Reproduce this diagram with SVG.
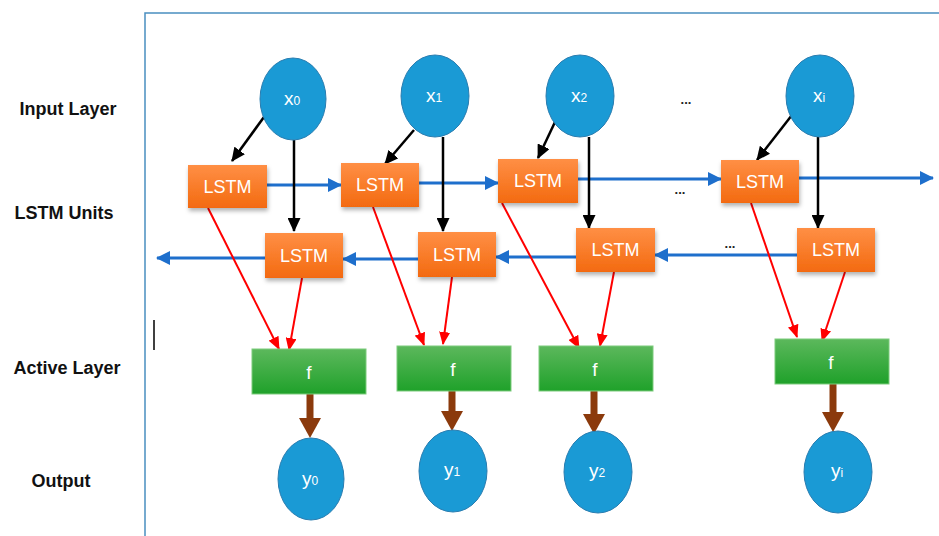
<svg xmlns="http://www.w3.org/2000/svg" width="939" height="536" viewBox="0 0 939 536">
<defs>
<linearGradient id="gOr" x1="0" y1="0" x2="0" y2="1"><stop offset="0" stop-color="#FF8F45"/><stop offset="1" stop-color="#F36A10"/></linearGradient>
<linearGradient id="gGr" x1="0" y1="0" x2="0" y2="1"><stop offset="0" stop-color="#5CB85C"/><stop offset="1" stop-color="#1FA12A"/></linearGradient>
<filter id="sh" x="-20%" y="-20%" width="140%" height="150%"><feDropShadow dx="1" dy="3" stdDeviation="2" flood-color="#000" flood-opacity="0.3"/></filter>
<marker id="mB" markerUnits="userSpaceOnUse" viewBox="0 0 14 14" refX="13" refY="7" markerWidth="14" markerHeight="14" orient="auto"><path d="M0,0 L14,7 L0,14 z" fill="#1E6FCC"/></marker>
<marker id="mK" markerUnits="userSpaceOnUse" viewBox="0 0 14 13" refX="13" refY="6.5" markerWidth="14" markerHeight="13" orient="auto"><path d="M0,0 L14,6.5 L0,13 z" fill="#000"/></marker>
<marker id="mR" markerUnits="userSpaceOnUse" viewBox="0 0 13 11" refX="12" refY="5.5" markerWidth="13" markerHeight="11" orient="auto"><path d="M0,0 L13,5.5 L0,11 z" fill="#FF0000"/></marker>
<marker id="mW" markerUnits="userSpaceOnUse" viewBox="0 0 20 22" refX="0" refY="11" markerWidth="20" markerHeight="22" orient="auto"><path d="M0,0 L20,11 L0,22 z" fill="#8B3A0C"/></marker>
</defs>
<style>
.lbl{font-family:"Liberation Sans",Arial,sans-serif;font-weight:bold;font-size:18px;fill:#111;text-anchor:middle;dominant-baseline:central}
.circ{fill:#1A9AD5;stroke:#2A7DB0;stroke-width:1}
.lstm rect{fill:url(#gOr);filter:url(#sh)}
.fbox rect{fill:url(#gGr);stroke:#7CCB7C;stroke-width:1}
.wt{font-family:"Liberation Sans",Arial,sans-serif;font-size:18px;fill:#fff;text-anchor:middle;dominant-baseline:central}
.big{font-size:19px}
.sub{font-size:12px}
.dots{font-family:"Liberation Sans",Arial,sans-serif;font-weight:bold;font-size:13px;fill:#222;text-anchor:middle}
.blue{stroke:#1E6FCC;stroke-width:3;fill:none;marker-end:url(#mB)}
.blk{stroke:#000;stroke-width:2.5;fill:none;marker-end:url(#mK)}
.red{stroke:#FF0000;stroke-width:2;fill:none;marker-end:url(#mR)}
.brn{stroke:#8B3A0C;stroke-width:7;fill:none;marker-end:url(#mW)}
</style>
<rect width="939" height="536" fill="#fff"/>
<path d="M145,536 V13 H939" fill="none" stroke="#4A8FC0" stroke-width="1.5"/>
<line x1="154" y1="320" x2="154" y2="350" stroke="#000" stroke-width="1.5"/>

<g id="labels">
<text class="lbl" x="68" y="109">Input Layer</text>
<text class="lbl" x="64" y="213">LSTM Units</text>
<text class="lbl" x="67" y="368">Active Layer</text>
<text class="lbl" x="61" y="481">Output</text>
</g>

<g id="connectors">
<line class="blue" x1="267" y1="185" x2="341" y2="185"/>
<line class="blue" x1="419" y1="183" x2="498" y2="183"/>
<line class="blue" x1="578" y1="179" x2="721" y2="179"/>
<line class="blue" x1="799" y1="178" x2="933" y2="178"/>
<line class="blue" x1="797" y1="255" x2="655" y2="255"/>
<line class="blue" x1="576" y1="257" x2="496" y2="257"/>
<line class="blue" x1="418" y1="259" x2="343" y2="259"/>
<line class="blue" x1="265" y1="258" x2="157" y2="258"/>
<line class="blk" x1="264" y1="117" x2="232" y2="161"/>
<line class="blk" x1="294" y1="140" x2="294" y2="231"/>
<line class="blk" x1="414" y1="130" x2="385" y2="164"/>
<line class="blk" x1="443" y1="137" x2="443" y2="231"/>
<line class="blk" x1="555" y1="122" x2="538" y2="158"/>
<line class="blk" x1="589" y1="137" x2="589" y2="228"/>
<line class="blk" x1="792" y1="115" x2="757" y2="160"/>
<line class="blk" x1="818" y1="137" x2="818" y2="228"/>
<line class="red" x1="208" y1="208" x2="279" y2="349"/>
<line class="red" x1="302" y1="278" x2="289" y2="350"/>
<line class="red" x1="373" y1="207" x2="424" y2="345"/>
<line class="red" x1="452" y1="277" x2="443" y2="344"/>
<line class="red" x1="502" y1="203" x2="579" y2="348"/>
<line class="red" x1="614" y1="272" x2="600" y2="346"/>
<line class="red" x1="751" y1="203" x2="797" y2="337"/>
<line class="red" x1="845" y1="272" x2="822" y2="341"/>
<line class="brn" x1="310" y1="394" x2="310" y2="418"/>
<line class="brn" x1="452" y1="391" x2="452" y2="411"/>
<line class="brn" x1="594" y1="391" x2="594" y2="414"/>
<line class="brn" x1="833" y1="384" x2="833" y2="412"/>
</g>

<g id="x0"><ellipse class="circ" cx="293" cy="99" rx="33" ry="41"/><text class="wt big" x="292" y="98">x<tspan class="sub" dy="3">0</tspan></text></g>
<g id="x1"><ellipse class="circ" cx="435" cy="96" rx="34" ry="41"/><text class="wt big" x="434" y="95">x<tspan class="sub" dy="3">1</tspan></text></g>
<g id="x2"><ellipse class="circ" cx="580" cy="96" rx="34" ry="41"/><text class="wt big" x="579" y="95">x<tspan class="sub" dy="3">2</tspan></text></g>
<g id="xi"><ellipse class="circ" cx="820" cy="96" rx="34" ry="41"/><text class="wt big" x="819" y="95">x<tspan class="sub" dy="3">i</tspan></text></g>

<g id="dots">
<text class="dots" x="686" y="104">...</text>
<text class="dots" x="680" y="194">...</text>
<text class="dots" x="730" y="248">...</text>
</g>

<g id="lstm-f1" class="lstm"><rect x="188" y="165" width="79" height="43"/><text class="wt" x="227.5" y="187">LSTM</text></g>
<g id="lstm-f2" class="lstm"><rect x="341" y="163" width="78" height="44"/><text class="wt" x="380" y="185">LSTM</text></g>
<g id="lstm-f3" class="lstm"><rect x="498" y="159" width="80" height="44"/><text class="wt" x="538" y="181">LSTM</text></g>
<g id="lstm-f4" class="lstm"><rect x="721" y="160" width="78" height="43"/><text class="wt" x="760" y="182">LSTM</text></g>
<g id="lstm-b1" class="lstm"><rect x="265" y="233" width="78" height="45"/><text class="wt" x="304" y="256">LSTM</text></g>
<g id="lstm-b2" class="lstm"><rect x="418" y="232" width="78" height="45"/><text class="wt" x="457" y="255">LSTM</text></g>
<g id="lstm-b3" class="lstm"><rect x="576" y="228" width="79" height="44"/><text class="wt" x="615.5" y="250">LSTM</text></g>
<g id="lstm-b4" class="lstm"><rect x="797" y="228" width="78" height="44"/><text class="wt" x="836" y="250">LSTM</text></g>

<g id="f0" class="fbox"><rect x="252" y="349" width="114" height="45"/><text class="wt big" x="309" y="372">f</text></g>
<g id="f1" class="fbox"><rect x="397" y="346" width="114" height="45"/><text class="wt big" x="453" y="369">f</text></g>
<g id="f2" class="fbox"><rect x="539" y="346" width="114" height="45"/><text class="wt big" x="595" y="369">f</text></g>
<g id="fi" class="fbox"><rect x="775" y="339" width="114" height="45"/><text class="wt big" x="831" y="362">f</text></g>

<g id="y0"><ellipse class="circ" cx="311" cy="479" rx="33" ry="41"/><text class="wt big" x="310" y="478">y<tspan class="sub" dy="3">0</tspan></text></g>
<g id="y1"><ellipse class="circ" cx="453" cy="471" rx="34" ry="41"/><text class="wt big" x="452" y="469">y<tspan class="sub" dy="3">1</tspan></text></g>
<g id="y2"><ellipse class="circ" cx="598" cy="472" rx="34" ry="41"/><text class="wt big" x="597" y="470">y<tspan class="sub" dy="3">2</tspan></text></g>
<g id="yi"><ellipse class="circ" cx="838" cy="472" rx="34" ry="41"/><text class="wt big" x="837" y="470">y<tspan class="sub" dy="3">i</tspan></text></g>
</svg>
